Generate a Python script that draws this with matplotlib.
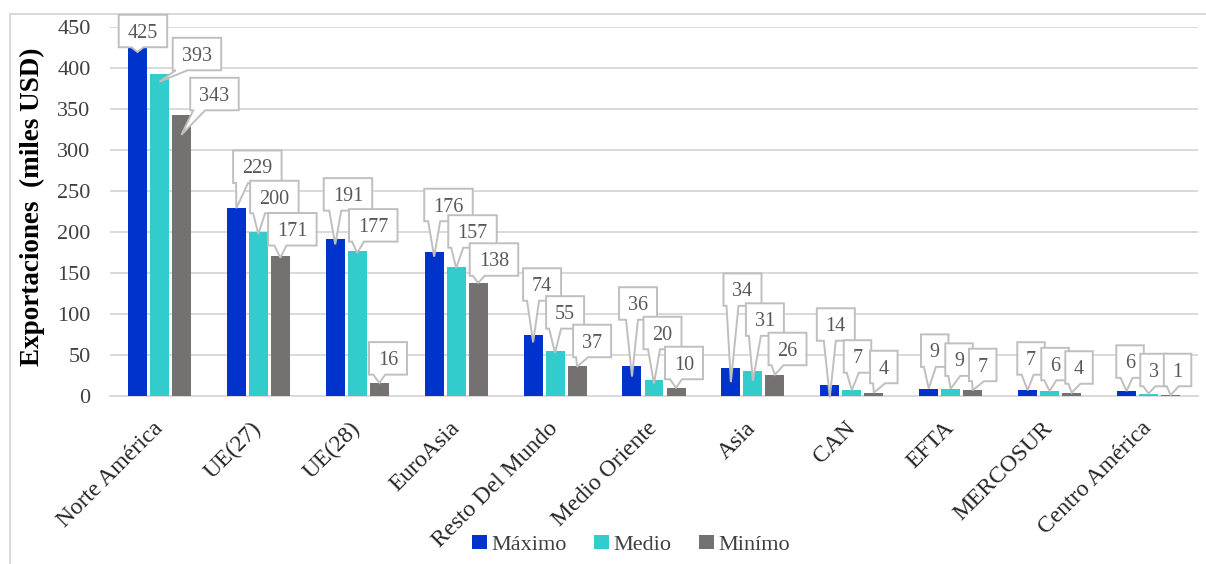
import matplotlib
matplotlib.use("Agg")
import matplotlib.pyplot as plt
import numpy as np
from matplotlib.patches import Polygon, Rectangle, Patch

# ---- data -------------------------------------------------------------
categories = ["Norte América", "UE(27)", "UE(28)", "EuroAsia", "Resto Del Mundo",
              "Medio Oriente", "Asia", "CAN", "EFTA", "MERCOSUR", "Centro América"]
maximo = [425, 229, 191, 176, 74, 36, 34, 14, 9, 7, 6]
medio = [393, 200, 177, 157, 55, 20, 31, 7, 9, 6, 3]
minimo = [343, 171, 16, 138, 37, 10, 26, 4, 7, 4, 1]
series_names = ["Máximo", "Medio", "Minímo"]
yticks = [0, 50, 100, 150, 200, 250, 300, 350, 400, 450]

# ---- callout placement (pixels: box centre relative to bar top, y down) -
box_dx = [[5.5, 21, 12.7, 14.3, 9, 6, 11.6, 6, 6, 3.4, 3.5],
          [37.5, 16, 16, 16.3, 10, 8.5, 12, 5.7, 8.3, 5.4, 5.5],
          [33, 12, 8.7, 15.8, 15, 8, 12.6, 10, 10, 7.4, 7]]
box_dy = [[-16.5, -41.5, -45, -46.7, -50.8, -63, -78.5, -60, -38, -31.8, -29.5],
          [-19.7, -35, -25.5, -35.8, -38.5, -46.6, -51, -33.8, -29, -27, -23.5],
          [-20.7, -26.5, -24.5, -23.3, -24.7, -24.8, -25.7, -25.7, -25.3, -25.2, -25.2]]
tip_drop = [[4.5, 0, 5, 5, 7, 10, 14, 13, 0, 0, 0],
            [8, 2, 2, 1, 2, 4, 10, 0, 0, 0, 0],
            [20, 2, 0, 0, 1, 0, 0, 0, 0, 0, 0]]

colors = ["#0033CC", "#33CCCC", "#767171"]
serif = ["Liberation Serif", "DejaVu Serif"]
plt.rcParams["font.family"] = serif

W, H, DPI = 1206, 564, 100
fig = plt.figure(figsize=(W / DPI, H / DPI), dpi=DPI)
fig.patch.set_facecolor("white")

# outer chart frame
fig.add_artist(Rectangle((10 / W, -0.05), 1.2, 1 - 14 / H + 0.05,
                         transform=fig.transFigure, fill=False,
                         edgecolor="#D9D9D9", linewidth=1.4))

ax = fig.add_axes([110 / W, 168 / H, 1088 / W, 369 / H])
x = np.arange(len(categories))
bw = 0.192
step = 0.2225
values = [maximo, medio, minimo]
for k, (vals, c) in enumerate(zip(values, colors)):
    ax.bar(x + (k - 1) * step, vals, width=bw, color=c, zorder=3,
           label=series_names[k])

ax.set_xlim(-0.5, len(categories) - 0.5)
ax.set_ylim(0, 450)
ax.set_yticks(yticks)
ax.set_yticklabels([str(t) for t in yticks], fontsize=16, color="#404040")
ax.tick_params(axis="y", length=0, pad=14)
ax.set_xticks(x)
ax.set_xticklabels(categories, rotation=45, ha="right", va="center",
                   rotation_mode="anchor", fontsize=17, color="#262626")
ax.tick_params(axis="x", length=0, pad=21)
for s in ["top", "right", "left"]:
    ax.spines[s].set_visible(False)
ax.spines["bottom"].set_color("#D9D9D9")
ax.spines["bottom"].set_linewidth(1.4)
ax.spines["bottom"].set_zorder(2)
ax.yaxis.grid(True, color="#D9D9D9", linewidth=1.4, zorder=0)
ax.set_axisbelow(True)

ax.set_ylabel("Exportaciones  (miles USD)", fontsize=19.5, fontweight="bold",
              color="black")
ax.yaxis.set_label_coords(-0.0597, 0.5136)

# ---- data callouts ----------------------------------------------------
to_fig = fig.transFigure.inverted()
box_h = 32.5
fs_lab = 14.5
for k, vals in enumerate(values):
    for i, v in enumerate(vals):
        bx, ty = ax.transData.transform((x[i] + (k - 1) * step, v))
        tipx, tipy = bx, ty - tip_drop[k][i]
        cx, cy = bx + box_dx[k][i], ty - box_dy[k][i]
        txt = str(v)
        bwid = 17 + 10.5 * len(txt)
        x0, x1 = cx - bwid / 2, cx + bwid / 2
        y0, y1 = cy - box_h / 2, cy + box_h / 2
        bc = min(max(tipx, x0 + 9), x1 - 9)
        pts = [(x0, y1), (x1, y1), (x1, y0), (bc + 6, y0), (tipx, tipy),
               (bc - 6, y0), (x0, y0)]
        pts = to_fig.transform(pts)
        fig.add_artist(Polygon(pts, closed=True, transform=fig.transFigure,
                               facecolor="white", edgecolor="#BFBFBF",
                               linewidth=1.4, zorder=5))
        base = cy - 0.66 * fs_lab * DPI / 72 / 2
        fx, fy = to_fig.transform((cx, base))
        fig.text(fx, fy, txt, ha="center", va="baseline", fontsize=fs_lab,
                 color="#595959", zorder=6)

# ---- legend -----------------------------------------------------------
handles = [Patch(facecolor=c, edgecolor="none") for c in colors]
fig.legend(handles, series_names, loc="center", bbox_to_anchor=(631 / W, 1 - 545 / H),
           ncol=3, frameon=False, prop={"family": serif, "size": 16},
           handlelength=0.7, handleheight=0.6, handletextpad=0.2,
           columnspacing=1.2, labelcolor="#404040", borderpad=0, borderaxespad=0)

fig.savefig("out.png", dpi=DPI, facecolor="white")
